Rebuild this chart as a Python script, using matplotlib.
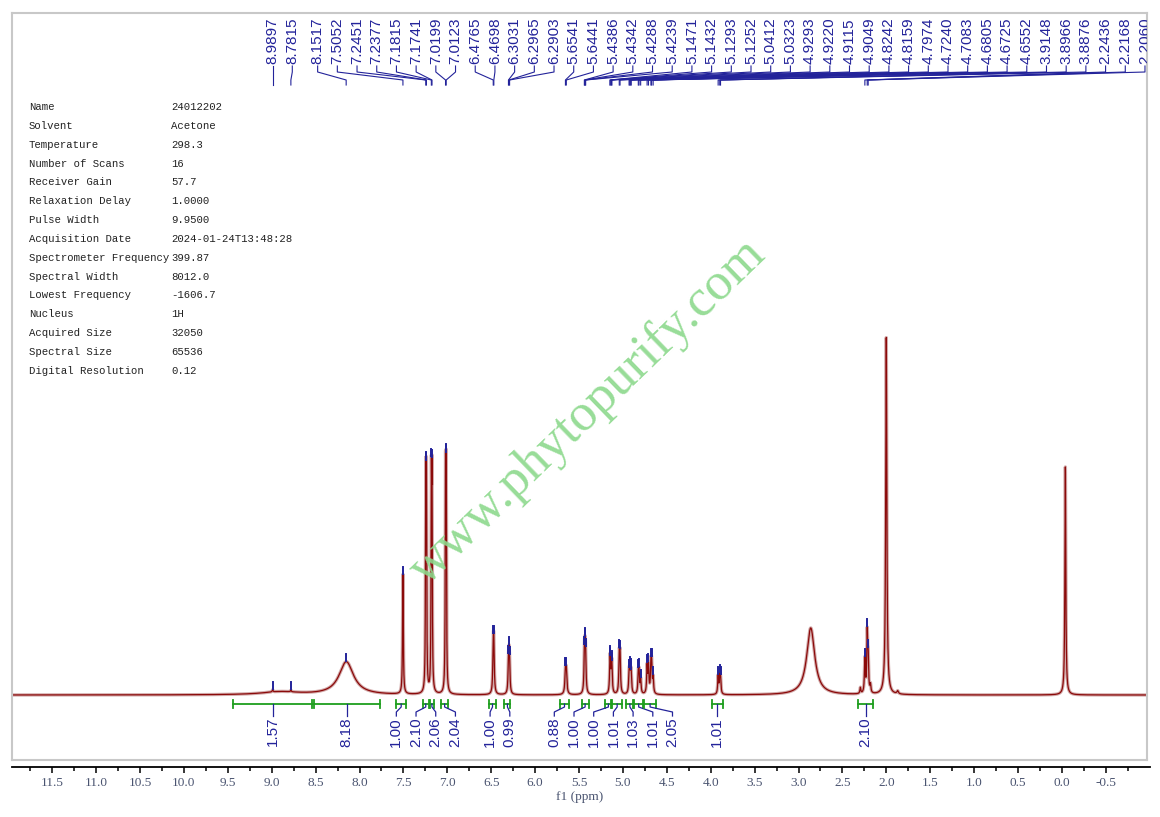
import numpy as np
import matplotlib
matplotlib.use('Agg')
from matplotlib import pyplot as plt

# acquisition parameters shown in the top-left table
param_names = ['Name', 'Solvent', 'Temperature', 'Number of Scans', 'Receiver Gain',
               'Relaxation Delay', 'Pulse Width', 'Acquisition Date',
               'Spectrometer Frequency', 'Spectral Width', 'Lowest Frequency',
               'Nucleus', 'Acquired Size', 'Spectral Size', 'Digital Resolution']
param_values = ['24012202', 'Acetone', '298.3', '16', '57.7', '1.0000', '9.9500',
                '2024-01-24T13:48:28', '399.87', '8012.0', '-1606.7', '1H',
                '32050', '65536', '0.12']

# lines of the spectrum: shift (ppm), intensity (a.u.), line width (ppm)
line_ppm = [8.90, 8.9897, 8.7815, 8.15,
            7.5052, 7.2451, 7.2377, 7.1815, 7.1741, 7.0199, 7.0123,
            6.4765, 6.4698, 6.3031, 6.2965, 6.2903,
            5.6541, 5.6441, 5.4386, 5.4342, 5.4288, 5.4239,
            5.1471, 5.1432, 5.1293, 5.1252, 5.0412, 5.0323,
            4.9293, 4.9220, 4.9115, 4.9049, 4.8242, 4.8159, 4.7974,
            4.7240, 4.7083, 4.6805, 4.6725, 4.6552,
            3.9148, 3.8966, 3.8876, 2.86,
            2.2950, 2.2436, 2.2168, 2.2060, 2.1800, 2.00, 1.87, -0.04]
line_int = [3, 2, 1.5, 33,
            120, 191, 191, 193, 193, 200, 200,
            42, 42, 24, 29, 21,
            21, 21, 24, 24, 24, 24,
            21, 21, 18, 18, 35, 35,
            17, 17, 15, 15, 19, 19, 14,
            27, 27, 26, 26, 15,
            18, 16, 14, 67,
            6, 34, 58, 31, 8, 357, 3, 228]
line_width = [0.50, 0.012, 0.012, 0.20,
              0.010, 0.008, 0.008, 0.008, 0.008, 0.008, 0.008,
              0.012, 0.012, 0.012, 0.012, 0.012,
              0.015, 0.015, 0.012, 0.012, 0.012, 0.012,
              0.012, 0.012, 0.012, 0.012, 0.012, 0.012,
              0.012, 0.012, 0.012, 0.012, 0.012, 0.012, 0.012,
              0.012, 0.012, 0.012, 0.012, 0.012,
              0.012, 0.012, 0.012, 0.11,
              0.012, 0.012, 0.012, 0.012, 0.012, 0.015, 0.02, 0.012]

# picked peaks (labels along the top)
pick_ppm = [8.9897, 8.7815, 8.1517, 7.5052, 7.2451, 7.2377, 7.1815, 7.1741,
            7.0199, 7.0123, 6.4765, 6.4698, 6.3031, 6.2965, 6.2903, 5.6541,
            5.6441, 5.4386, 5.4342, 5.4288, 5.4239, 5.1471, 5.1432, 5.1293,
            5.1252, 5.0412, 5.0323, 4.9293, 4.9220, 4.9115, 4.9049, 4.8242,
            4.8159, 4.7974, 4.7240, 4.7083, 4.6805, 4.6725, 4.6552, 3.9148,
            3.8966, 3.8876, 2.2436, 2.2168, 2.2060]

# integrals: region start/end (ppm) and value
int_start = [9.44, 8.52, 7.58, 7.28, 7.20, 7.07, 6.52, 6.35, 5.72, 5.47,
             5.20, 5.12, 4.96, 4.87, 4.76, 3.99, 2.32]
int_end = [8.54, 7.77, 7.47, 7.21, 7.15, 6.99, 6.45, 6.28, 5.61, 5.39,
           5.13, 5.01, 4.88, 4.77, 4.62, 3.86, 2.15]
int_value = [1.57, 8.18, 1.00, 2.10, 2.06, 2.04, 1.00, 0.99, 0.88, 1.00,
             1.00, 1.01, 1.03, 1.01, 2.05, 1.01, 2.10]

XMAX, XMIN = 11.958, -0.970
BLUE = '#23239a'
GREEN = '#1e9e1e'


def spread(targets, gap, lo, hi):
    # centred clusters, labels at least `gap` apart
    groups = [[i] for i in range(len(targets))]

    def place(g):
        s = np.mean([targets[i] - k * gap for k, i in enumerate(g)])
        return min(max(s, lo), hi - (len(g) - 1) * gap)

    starts = [place(g) for g in groups]
    merged = True
    while merged:
        merged = False
        for j in range(len(groups) - 1):
            end_j = starts[j] + (len(groups[j]) - 1) * gap
            if starts[j + 1] - end_j < gap - 1e-9:
                groups[j] = groups[j] + groups[j + 1]
                del groups[j + 1]
                starts = [place(g) for g in groups]
                merged = True
                break
    pos = []
    for s, g in zip(starts, groups):
        pos += [s + k * gap for k in range(len(g))]
    return pos


def pack(targets, gap, hi):
    # push right, then pull back from the right edge
    pos = list(targets)
    for i in range(1, len(pos)):
        pos[i] = max(pos[i], pos[i - 1] + gap)
    pos[-1] = min(pos[-1], hi)
    for i in range(len(pos) - 2, -1, -1):
        pos[i] = min(pos[i], pos[i + 1] - gap)
    return pos


fig = plt.figure(figsize=(11.6, 8.17), dpi=100)
ax = fig.add_axes([12 / 1160, 1 - 760 / 817, 1135 / 1160, 747 / 817])
ax.set_xlim(XMAX, XMIN)
ax.set_ylim(-65, 682)
ax.set_xticks([])
ax.set_yticks([])
for sp in ax.spines.values():
    sp.set_color('#c8c8c8')
    sp.set_linewidth(1.5)

# spectrum
x = np.linspace(XMAX, XMIN, 14000)
y = np.zeros_like(x)
for p, h, w in zip(line_ppm, line_int, line_width):
    y += h / (1 + (2 * (x - p) / w) ** 2)
ax.plot(x, y, color='#d2aaaa', lw=2.4, solid_joinstyle='round')
ax.plot(x, y, color='#8b0a0a', lw=0.9)

# peak pick marks and labels
gap = 19.7 / 87.8
u_pos = pack([XMAX - p for p in pick_ppm], gap, XMAX - (-0.947))
for p, u in zip(pick_ppm, u_pos):
    lx = XMAX - u
    h = np.interp(-p, -x, y)
    ax.plot([p, p], [h + 1, h + 8], color=BLUE, lw=1.4)
    ax.plot([lx, lx, p, p], [629, 623, 615, 610], color=BLUE, lw=0.8, clip_on=True)
    ax.text(lx, 631, '%.4f' % p, rotation=90, ha='center', va='bottom',
            fontsize=11, color=BLUE, family='Liberation Sans', clip_on=True)

# integrals
centers = [(a + b) / 2 for a, b in zip(int_start, int_end)]
u_int = spread([XMAX - c for c in centers], gap, 0.1, XMAX - (-0.947))
for a, b, c, v, u in zip(int_start, int_end, centers, int_value, u_int):
    lx = XMAX - u
    ax.plot([a, b], [-9, -9], color=GREEN, lw=1.3)
    ax.plot([a, a], [-5, -13], color=GREEN, lw=1.3)
    ax.plot([b, b], [-5, -13], color=GREEN, lw=1.3)
    ax.plot([c, c, lx, lx], [-9, -12, -17, -21], color=BLUE, lw=0.9)
    ax.text(lx, -22, '%.2f' % v, rotation=90, ha='center', va='top',
            fontsize=11, color=BLUE, family='Liberation Sans')

# bottom ppm axis
axb = fig.add_axes([12 / 1160, 1 - 767 / 817, 1138 / 1160, 0.0001])
axb.set_xlim(XMAX, XMAX - 1138 / 87.8)
axb.set_yticks([])
for s in ['left', 'right', 'top']:
    axb.spines[s].set_visible(False)
axb.spines['bottom'].set_linewidth(1.3)
axb.set_xticks(np.arange(-0.5, 11.51, 0.5))
axb.set_xticks(np.arange(-0.75, 11.8, 0.5), minor=True)
axb.tick_params(axis='x', which='major', direction='out', length=4, width=1.1,
                pad=3, labelsize=9.5, labelcolor='#4a5470')
axb.tick_params(axis='x', which='minor', direction='out', length=3, width=1.1)
axb.set_xticklabels(['%.1f' % t for t in np.arange(-0.5, 11.51, 0.5)],
                    family='Liberation Serif')
fig.text(580 / 1160, 1 - 797 / 817, 'f1 (ppm)', ha='center', va='center',
         fontsize=9.5, color='#4a5470', family='Liberation Serif')

# parameter table
for i, (n, v) in enumerate(zip(param_names, param_values)):
    yy = 1 - (107 + i * 18.85) / 817
    fig.text(29 / 1160, yy, n, ha='left', va='center', fontsize=7.7,
             family='Liberation Mono', color='#222222')
    fig.text(171 / 1160, yy, v, ha='left', va='center', fontsize=7.7,
             family='Liberation Mono', color='#222222')

# watermark
fig.text(588 / 1160, 1 - 412 / 817, 'www.phytopurify.com', rotation=44,
         ha='center', va='center', fontsize=38, family='Liberation Serif',
         color='#8cd98c', alpha=0.9)

fig.savefig('out.png', dpi=100)
